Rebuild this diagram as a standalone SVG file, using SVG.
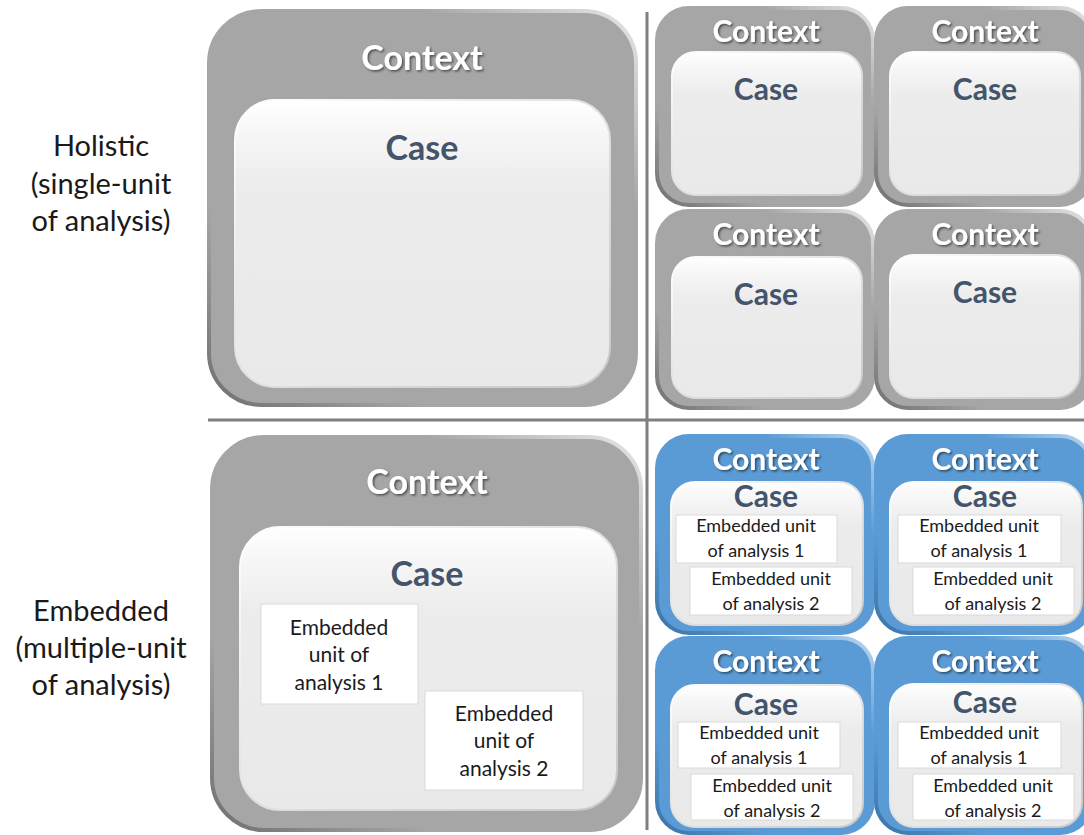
<svg xmlns="http://www.w3.org/2000/svg" width="1084" height="835" viewBox="0 0 1084 835">
<defs>
<linearGradient id="caseFill" x1="0" y1="0" x2="0" y2="1">
<stop offset="0" stop-color="#ffffff"/>
<stop offset="0.12" stop-color="#f6f6f6"/>
<stop offset="0.3" stop-color="#ececec"/>
<stop offset="1" stop-color="#e9e9e9"/>
</linearGradient>
<linearGradient id="caseEdge" x1="0" y1="0" x2="1" y2="1">
<stop offset="0" stop-color="#ffffff"/>
<stop offset="0.5" stop-color="#e0e0e0"/>
<stop offset="1" stop-color="#c8c8c8"/>
</linearGradient>
<linearGradient id="grayBevel" x1="1" y1="0" x2="0" y2="1">
<stop offset="0" stop-color="#e6e6e6"/>
<stop offset="0.25" stop-color="#a6a6a6"/>
<stop offset="0.75" stop-color="#a6a6a6"/>
<stop offset="1" stop-color="#6f6f6f"/>
</linearGradient>
<linearGradient id="blueBevel" x1="1" y1="0" x2="0" y2="1">
<stop offset="0" stop-color="#bcd7ef"/>
<stop offset="0.25" stop-color="#5b9bd5"/>
<stop offset="0.75" stop-color="#5b9bd5"/>
<stop offset="1" stop-color="#3a72a8"/>
</linearGradient>
<filter id="tshadow" x="-10%" y="-20%" width="130%" height="150%">
<feDropShadow dx="1.5" dy="1.5" stdDeviation="1" flood-color="#000" flood-opacity="0.55"/>
</filter>
</defs>
<style>
.ctxG{fill:#a6a6a6;stroke:url(#grayBevel);stroke-width:4}
.ctxB{fill:#5b9bd5;stroke:url(#blueBevel);stroke-width:4}
.case{fill:url(#caseFill);stroke:url(#caseEdge);stroke-width:2}
.emb{fill:#ffffff;stroke:#d9d9d9;stroke-width:1}
.ctxT{font-family:Lato,"Liberation Sans",sans-serif;font-weight:bold;fill:#ffffff;text-anchor:middle;filter:url(#tshadow)}
.caseT{font-family:Lato,"Liberation Sans",sans-serif;font-weight:bold;fill:#44546a;text-anchor:middle}
.embT{font-family:Lato,"Liberation Sans",sans-serif;fill:#1a1a1a;text-anchor:middle}
.lbl{font-family:Lato,"Liberation Sans",sans-serif;fill:#1a1a1a;text-anchor:middle;font-size:29px}
.div{stroke:#7f7f7f;stroke-width:3}
</style>
<rect x="0" y="0" width="1084" height="835" fill="#ffffff"/>

<g id="dividers">
<line class="div" x1="647" y1="12" x2="647" y2="830"/>
<line class="div" x1="208" y1="420" x2="1084" y2="420"/>
</g>

<g id="row-labels">
<text class="lbl" x="101" y="156">Holistic</text>
<text class="lbl" x="101" y="194">(single-unit</text>
<text class="lbl" x="101" y="231">of analysis)</text>
<text class="lbl" x="101" y="621">Embedded</text>
<text class="lbl" x="101" y="658">(multiple-unit</text>
<text class="lbl" x="101" y="695">of analysis)</text>
</g>

<g id="holistic-single">
<rect class="ctxG" x="209" y="11" width="427" height="394" rx="52"/>
<text class="ctxT" x="422" y="70" font-size="34">Context</text>
<rect class="case" x="235" y="100" width="375" height="287" rx="40"/>
<text class="caseT" x="422" y="160" font-size="34">Case</text>
</g>

<g id="holistic-multi-1">
<rect class="ctxG" x="657" y="8" width="216" height="197" rx="32"/>
<text class="ctxT" x="766" y="42" font-size="30">Context</text>
<rect class="case" x="672" y="52" width="190" height="143" rx="24"/>
<text class="caseT" x="766" y="100" font-size="30">Case</text>
</g>
<g id="holistic-multi-2">
<rect class="ctxG" x="876" y="8" width="216" height="197" rx="32"/>
<text class="ctxT" x="985" y="42" font-size="30">Context</text>
<rect class="case" x="890" y="52" width="190" height="143" rx="24"/>
<text class="caseT" x="985" y="100" font-size="30">Case</text>
</g>
<g id="holistic-multi-3">
<rect class="ctxG" x="657" y="211" width="216" height="197" rx="32"/>
<text class="ctxT" x="766" y="245" font-size="30">Context</text>
<rect class="case" x="672" y="257" width="190" height="141" rx="24"/>
<text class="caseT" x="766" y="305" font-size="30">Case</text>
</g>
<g id="holistic-multi-4">
<rect class="ctxG" x="876" y="211" width="216" height="197" rx="32"/>
<text class="ctxT" x="985" y="245" font-size="30">Context</text>
<rect class="case" x="890" y="255" width="190" height="143" rx="24"/>
<text class="caseT" x="985" y="303" font-size="30">Case</text>
</g>

<g id="embedded-single">
<rect class="ctxG" x="212" y="437" width="429" height="393" rx="52"/>
<text class="ctxT" x="427" y="494" font-size="34">Context</text>
<rect class="case" x="240" y="527" width="377" height="283" rx="40"/>
<text class="caseT" x="427" y="586" font-size="34">Case</text>
<rect class="emb" x="261" y="604" width="157" height="100"/>
<text class="embT" font-size="21" x="339" y="635">Embedded</text>
<text class="embT" font-size="21" x="339" y="662">unit of</text>
<text class="embT" font-size="21" x="339" y="690">analysis 1</text>
<rect class="emb" x="425" y="691" width="158" height="99"/>
<text class="embT" font-size="21" x="504" y="721">Embedded</text>
<text class="embT" font-size="21" x="504" y="748">unit of</text>
<text class="embT" font-size="21" x="504" y="776">analysis 2</text>
</g>

<g id="embedded-multi-1">
<rect class="ctxB" x="657" y="436" width="216" height="197" rx="32"/>
<text class="ctxT" x="766" y="470" font-size="30">Context</text>
<rect class="case" x="671" y="482" width="192" height="143" rx="24"/>
<text class="caseT" x="766" y="507" font-size="30">Case</text>
<rect class="emb" x="676" y="515" width="161" height="48"/>
<text class="embT" font-size="18" x="756" y="532">Embedded unit</text>
<text class="embT" font-size="18" x="756" y="557">of analysis 1</text>
<rect class="emb" x="690" y="567" width="162" height="48"/>
<text class="embT" font-size="18" x="771" y="585">Embedded unit</text>
<text class="embT" font-size="18" x="771" y="610">of analysis 2</text>
</g>
<g id="embedded-multi-2">
<rect class="ctxB" x="876" y="436" width="216" height="197" rx="32"/>
<text class="ctxT" x="985" y="470" font-size="30">Context</text>
<rect class="case" x="890" y="482" width="192" height="143" rx="24"/>
<text class="caseT" x="985" y="507" font-size="30">Case</text>
<rect class="emb" x="898" y="515" width="163" height="48"/>
<text class="embT" font-size="18" x="979" y="532">Embedded unit</text>
<text class="embT" font-size="18" x="979" y="557">of analysis 1</text>
<rect class="emb" x="913" y="567" width="161" height="48"/>
<text class="embT" font-size="18" x="993" y="585">Embedded unit</text>
<text class="embT" font-size="18" x="993" y="610">of analysis 2</text>
</g>
<g id="embedded-multi-3">
<rect class="ctxB" x="657" y="638" width="216" height="195" rx="32"/>
<text class="ctxT" x="766" y="672" font-size="30">Context</text>
<rect class="case" x="671" y="685" width="192" height="142" rx="24"/>
<text class="caseT" x="766" y="715" font-size="30">Case</text>
<rect class="emb" x="678" y="722" width="162" height="46"/>
<text class="embT" font-size="18" x="759" y="739">Embedded unit</text>
<text class="embT" font-size="18" x="759" y="764">of analysis 1</text>
<rect class="emb" x="691" y="774" width="162" height="46"/>
<text class="embT" font-size="18" x="772" y="792">Embedded unit</text>
<text class="embT" font-size="18" x="772" y="817">of analysis 2</text>
</g>
<g id="embedded-multi-4">
<rect class="ctxB" x="876" y="638" width="216" height="195" rx="32"/>
<text class="ctxT" x="985" y="672" font-size="30">Context</text>
<rect class="case" x="890" y="684" width="192" height="143" rx="24"/>
<text class="caseT" x="985" y="713" font-size="30">Case</text>
<rect class="emb" x="898" y="722" width="163" height="46"/>
<text class="embT" font-size="18" x="979" y="739">Embedded unit</text>
<text class="embT" font-size="18" x="979" y="764">of analysis 1</text>
<rect class="emb" x="913" y="774" width="161" height="46"/>
<text class="embT" font-size="18" x="993" y="792">Embedded unit</text>
<text class="embT" font-size="18" x="993" y="817">of analysis 2</text>
</g>
</svg>
